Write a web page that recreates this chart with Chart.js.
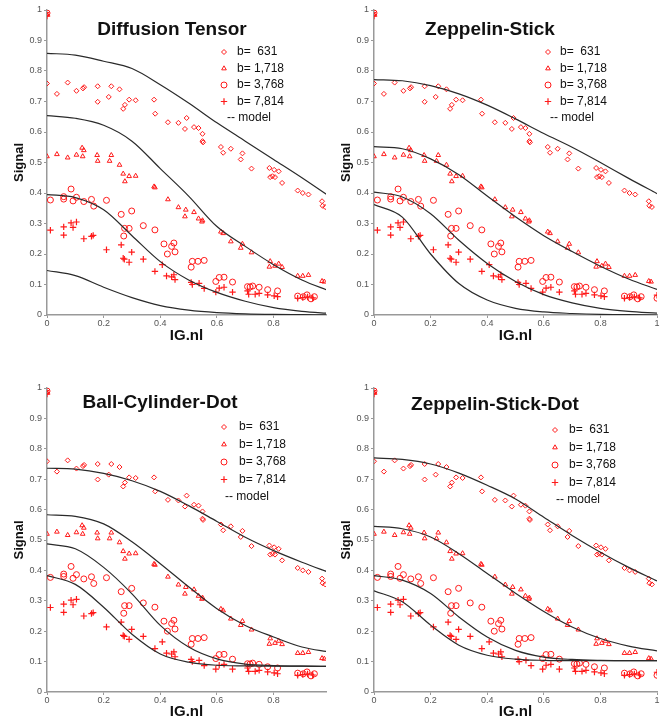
<!DOCTYPE html>
<html>
<head>
<meta charset="utf-8">
<script src="https://cdn.jsdelivr.net/npm/chart.js@4.4.1/dist/chart.umd.min.js"></script>
<style>
  html, body { margin: 0; padding: 0; background: #fff; }
  body { position: relative; width: 669px; height: 721px; overflow: hidden; }
  canvas { position: absolute; }
</style>
</head>
<body>
<canvas id="p1" width="335" height="345" style="left:0;top:0"></canvas>
<canvas id="p2" width="342" height="345" style="left:327px;top:0"></canvas>
<canvas id="p3" width="335" height="343" style="left:0;top:378px"></canvas>
<canvas id="p4" width="342" height="343" style="left:327px;top:378px"></canvas>
<script>
"use strict";

const X_TICKS = [0, 0.2, 0.4, 0.6, 0.8, 1];
const Y_TICKS = [0, 0.1, 0.2, 0.3, 0.4, 0.5, 0.6, 0.7, 0.8, 0.9, 1];
const MODEL_X = [0, 0.1, 0.2, 0.3, 0.4, 0.5, 0.6, 0.7, 0.8, 0.9, 1];

// measured signal, same in all four panels
const B631 = [
  [0, 0.995], [0, 0.759], [0.035, 0.725], [0.073, 0.762], [0.104, 0.735], [0.127, 0.743],
  [0.131, 0.747], [0.179, 0.75], [0.179, 0.699], [0.218, 0.715], [0.227, 0.75], [0.256, 0.74],
  [0.269, 0.676], [0.275, 0.689], [0.29, 0.706], [0.313, 0.704], [0.378, 0.706], [0.382, 0.66],
  [0.427, 0.632], [0.464, 0.63], [0.487, 0.61], [0.493, 0.646], [0.519, 0.616], [0.535, 0.613],
  [0.549, 0.594], [0.549, 0.57], [0.551, 0.566], [0.614, 0.551], [0.622, 0.532], [0.649, 0.545],
  [0.684, 0.51], [0.69, 0.53], [0.722, 0.48], [0.785, 0.482], [0.802, 0.476], [0.788, 0.452],
  [0.796, 0.455], [0.805, 0.452], [0.818, 0.471], [0.83, 0.433], [0.885, 0.408], [0.903, 0.4],
  [0.923, 0.395], [0.971, 0.373], [0.973, 0.358], [0.982, 0.354],
];
const B1718 = [
  [0, 0.985], [0, 0.52], [0.035, 0.527], [0.073, 0.516], [0.104, 0.525], [0.124, 0.548],
  [0.13, 0.54], [0.126, 0.52], [0.177, 0.524], [0.179, 0.505], [0.221, 0.505], [0.227, 0.524],
  [0.256, 0.492], [0.269, 0.463], [0.275, 0.438], [0.29, 0.455], [0.313, 0.456], [0.378, 0.421],
  [0.381, 0.418], [0.427, 0.379], [0.464, 0.353], [0.49, 0.345], [0.487, 0.323], [0.519, 0.337],
  [0.535, 0.316], [0.549, 0.31], [0.547, 0.306], [0.614, 0.273], [0.622, 0.268], [0.649, 0.241],
  [0.684, 0.22], [0.69, 0.233], [0.722, 0.205], [0.788, 0.176], [0.785, 0.158], [0.805, 0.161],
  [0.818, 0.168], [0.83, 0.157], [0.885, 0.128], [0.903, 0.128], [0.923, 0.131], [0.971, 0.111],
  [0.979, 0.109],
];
const B3768 = [
  [0, 0.99], [0.012, 0.377], [0.059, 0.388], [0.059, 0.38], [0.085, 0.413], [0.092, 0.374],
  [0.104, 0.386], [0.13, 0.372], [0.157, 0.379], [0.165, 0.357], [0.21, 0.376], [0.262, 0.33],
  [0.271, 0.259], [0.274, 0.284], [0.29, 0.284], [0.299, 0.341], [0.34, 0.293], [0.381, 0.279],
  [0.413, 0.233], [0.425, 0.2], [0.44, 0.225], [0.448, 0.236], [0.452, 0.207], [0.509, 0.157],
  [0.513, 0.176], [0.533, 0.176], [0.555, 0.179], [0.596, 0.11], [0.608, 0.123], [0.625, 0.124],
  [0.655, 0.108], [0.708, 0.093], [0.717, 0.092], [0.726, 0.095], [0.749, 0.091], [0.779, 0.083],
  [0.814, 0.079], [0.885, 0.062], [0.905, 0.06], [0.918, 0.066], [0.932, 0.053], [0.944, 0.06],
  [1.0, 0.055],
];
const B7814 = [
  [0, 0.98], [0.012, 0.278], [0.059, 0.289], [0.059, 0.262], [0.085, 0.302], [0.092, 0.287],
  [0.104, 0.305], [0.13, 0.25], [0.157, 0.258], [0.163, 0.261], [0.21, 0.214], [0.262, 0.23],
  [0.269, 0.186], [0.273, 0.183], [0.29, 0.173], [0.299, 0.206], [0.34, 0.183], [0.381, 0.143],
  [0.407, 0.165], [0.422, 0.128], [0.44, 0.125], [0.448, 0.132], [0.452, 0.116], [0.509, 0.107],
  [0.513, 0.1], [0.537, 0.104], [0.555, 0.087], [0.596, 0.075], [0.608, 0.088], [0.625, 0.091],
  [0.655, 0.075], [0.708, 0.079], [0.712, 0.068], [0.735, 0.068], [0.749, 0.071], [0.779, 0.066],
  [0.802, 0.063], [0.814, 0.06], [0.885, 0.055], [0.903, 0.057], [0.92, 0.059], [0.938, 0.056],
  [1.0, 0.065],
];

// model curves, sampled at MODEL_X
const DT_631 = [0.858, 0.852, 0.832, 0.808, 0.755, 0.695, 0.63, 0.57, 0.51, 0.45, 0.387];
const DT_1718 = [0.654, 0.645, 0.622, 0.57, 0.48, 0.39, 0.29, 0.225, 0.165, 0.115, 0.078];
const DT_3768 = [0.395, 0.385, 0.345, 0.26, 0.175, 0.115, 0.074, 0.045, 0.024, 0.012, 0.005];
const DT_7814 = [0.146, 0.129, 0.091, 0.057, 0.031, 0.016, 0.008, 0.004, 0.002, 0.001, 0];

const ZS_631 = [0.772, 0.768, 0.752, 0.725, 0.688, 0.643, 0.595, 0.55, 0.5, 0.448, 0.398];
const ZS_1718 = [0.552, 0.545, 0.512, 0.46, 0.39, 0.322, 0.26, 0.208, 0.16, 0.118, 0.084];
const ZS_3768 = [0.403, 0.387, 0.332, 0.245, 0.169, 0.11, 0.067, 0.04, 0.022, 0.012, 0.006];
const ZS_7814 = [0.362, 0.321, 0.2, 0.103, 0.049, 0.022, 0.01, 0.005, 0.002, 0.001, 0];

const BCD_631 = [0.736, 0.733, 0.719, 0.695, 0.66, 0.613, 0.561, 0.509, 0.465, 0.427, 0.392];
const BCD_1718 = [0.583, 0.578, 0.553, 0.494, 0.422, 0.346, 0.274, 0.219, 0.181, 0.148, 0.131];
const BCD_3768 = [0.487, 0.471, 0.41, 0.323, 0.219, 0.148, 0.109, 0.092, 0.087, 0.085, 0.084];
const BCD_7814 = [0.383, 0.354, 0.279, 0.19, 0.125, 0.098, 0.088, 0.086, 0.085, 0.085, 0.084];

const ZSD_631 = [0.77, 0.765, 0.75, 0.72, 0.68, 0.635, 0.575, 0.515, 0.46, 0.41, 0.365];
const ZSD_1718 = [0.545, 0.537, 0.51, 0.455, 0.39, 0.325, 0.265, 0.214, 0.176, 0.151, 0.135];
const ZSD_3768 = [0.383, 0.368, 0.324, 0.247, 0.181, 0.137, 0.115, 0.107, 0.104, 0.103, 0.103];
const ZSD_7814 = [0.333, 0.297, 0.22, 0.154, 0.121, 0.108, 0.104, 0.103, 0.103, 0.103, 0.103];

const RED = "#ff1a1a";
const FONT = '"Liberation Sans", Arial, sans-serif';
Chart.defaults.font.family = FONT;

const SERIES = [
  { label: "b=  631", pts: B631, style: "rectRot", r: 2.5, bw: 1 },
  { label: "b= 1,718", pts: B1718, style: "triangle", r: 2.7, bw: 1 },
  { label: "b= 3,768", pts: B3768, style: "circle", r: 3, bw: 1 },
  { label: "b= 7,814", pts: B7814, style: "cross", r: 3.2, bw: 1.2 },
];

const PANELS = [
  { id: "p1", title: "Diffusion Tensor", models: [DT_631, DT_1718, DT_3768, DT_7814],
    xMax: 0.985, padRight: 9, xAxisH: 30,
    titleX: 172, titleY: 30, legX: 224, textX: 237, modelX: 227, legY: 52, rowH: 16.5 },
  { id: "p2", title: "Zeppelin-Stick", models: [ZS_631, ZS_1718, ZS_3768, ZS_7814],
    xMax: 1, padRight: 12, xAxisH: 30,
    titleX: 163, titleY: 30, legX: 221, textX: 233, modelX: 223, legY: 52, rowH: 16.5 },
  { id: "p3", title: "Ball-Cylinder-Dot", models: [BCD_631, BCD_1718, BCD_3768, BCD_7814],
    xMax: 0.985, padRight: 9, xAxisH: 29,
    titleX: 160, titleY: 25, legX: 224, textX: 239, modelX: 225, legY: 49, rowH: 17.5 },
  { id: "p4", title: "Zeppelin-Stick-Dot", models: [ZSD_631, ZSD_1718, ZSD_3768, ZSD_7814],
    xMax: 1, padRight: 12, xAxisH: 29,
    titleX: 168, titleY: 27, legX: 228, textX: 242, modelX: 229, legY: 52, rowH: 17.5 },
];

// panel title + in-plot legend
const decoPlugin = {
  id: "deco",
  afterDatasetsDraw(chart, args, o) {
    const ctx = chart.ctx;
    ctx.save();
    ctx.fillStyle = "#111";
    ctx.font = "bold 19px " + FONT;
    ctx.textAlign = "center";
    ctx.textBaseline = "middle";
    ctx.fillText(o.title, o.titleX, o.titleY);

    ctx.textAlign = "left";
    ctx.font = "12px " + FONT;
    SERIES.forEach((s, i) => {
      const y = o.legY + i * o.rowH;
      ctx.strokeStyle = RED;
      ctx.lineWidth = s.bw;
      ctx.fillStyle = "rgba(0,0,0,0)";
      Chart.helpers.drawPoint(ctx, { pointStyle: s.style, radius: s.r, borderWidth: s.bw, rotation: 0 }, o.legX, y);
      ctx.fillStyle = "#111";
      ctx.fillText(s.label, o.textX, y);
    });
    ctx.fillText("-- model", o.modelX, o.legY + 4 * o.rowH);
    ctx.restore();
  },
};

function axisStyle() {
  return {
    ticks: { font: { size: 9 }, color: "#555", autoSkip: false, maxRotation: 0, callback: (v) => String(v) },
    grid: { drawOnChartArea: false, tickLength: 3, color: "#999" },
    border: { color: "#999", width: 1.5 },
  };
}

PANELS.forEach((p) => {
  const scatterSets = SERIES.map((s) => ({
    label: s.label,
    data: s.pts.map(([x, y]) => ({ x, y })),
    pointStyle: s.style,
    pointRadius: s.r,
    pointBorderWidth: s.bw,
    pointBorderColor: RED,
    pointBackgroundColor: "rgba(0,0,0,0)",
    showLine: false,
  }));

  const modelSets = p.models.map((m) => ({
    label: "model",
    data: MODEL_X.map((x, i) => ({ x, y: m[i] })),
    showLine: true,
    pointRadius: 0,
    borderColor: "#2a2a2a",
    borderWidth: 1.2,
    cubicInterpolationMode: "monotone",
  }));

  const xs = axisStyle();
  const ys = axisStyle();

  new Chart(document.getElementById(p.id), {
    type: "scatter",
    data: { datasets: [...modelSets, ...scatterSets] },
    options: {
      responsive: false,
      animation: false,
      events: [],
      layout: { padding: { top: 10, right: p.padRight, left: 0, bottom: 0 } },
      plugins: {
        legend: { display: false },
        tooltip: { enabled: false },
        deco: p,
      },
      scales: {
        x: {
          type: "linear",
          min: 0,
          max: p.xMax,
          afterFit: (s) => { s.height = p.xAxisH; },
          afterBuildTicks: (s) => { s.ticks = X_TICKS.filter((v) => v <= p.xMax).map((v) => ({ value: v })); },
          ticks: { ...xs.ticks, padding: 0 },
          grid: xs.grid,
          border: xs.border,
          title: { display: true, text: "IG.nl", color: "#111", font: { size: 15, weight: "bold" }, padding: 0 },
        },
        y: {
          type: "linear",
          min: 0,
          max: 1,
          afterFit: (s) => { s.width = 47; },
          afterBuildTicks: (s) => { s.ticks = Y_TICKS.map((v) => ({ value: v })); },
          ticks: { ...ys.ticks, padding: 2 },
          grid: ys.grid,
          border: ys.border,
          title: { display: true, text: "Signal", color: "#111", font: { size: 13, weight: "bold" }, padding: { top: 12, bottom: 0 } },
        },
      },
    },
    plugins: [decoPlugin],
  });
});
</script>
</body>
</html>
